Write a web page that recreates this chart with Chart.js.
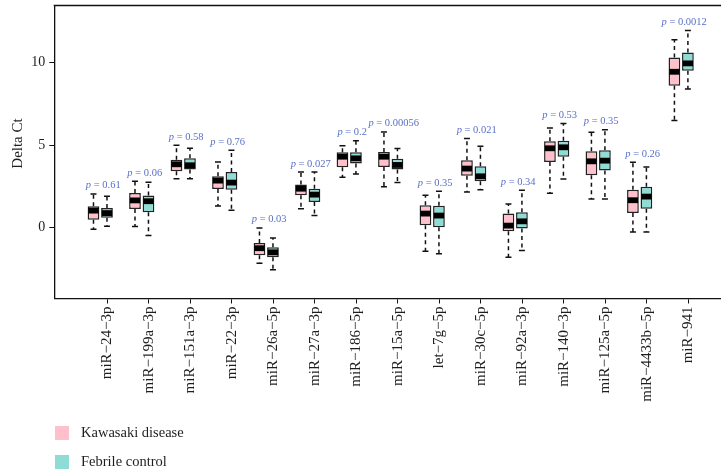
<!DOCTYPE html>
<html>
<head>
<meta charset="utf-8">
<script src="https://cdn.jsdelivr.net/npm/chart.js@4.4.1/dist/chart.umd.min.js"></script>
<style>
  html, body { margin: 0; padding: 0; background: #fff; overflow: hidden; }
  #wrap { width: 721px; height: 472px; position: relative; }
</style>
</head>
<body>
<div id="wrap"><canvas id="chart"></canvas></div>
<script>
// miRNA targets along the x axis
const categories = [
  'miR−24−3p', 'miR−199a−3p', 'miR−151a−3p', 'miR−22−3p', 'miR−26a−5p',
  'miR−27a−3p', 'miR−186−5p', 'miR−15a−5p', 'let−7g−5p', 'miR−30c−5p',
  'miR−92a−3p', 'miR−140−3p', 'miR−125a−5p', 'miR−4433b−5p', 'miR−941'
];

// Group comparison p-values
const pValues = ['0.61', '0.06', '0.58', '0.76', '0.03', '0.027', '0.2', '0.00056',
                 '0.35', '0.021', '0.34', '0.53', '0.35', '0.26', '0.0012'];

// Kawasaki disease: whisker low, Q1, median, Q3, whisker high (Delta Ct)
const kdLow    = [-0.10, 0.06, 2.97, 1.31, -2.16, 1.15, 3.05, 2.47, -1.43, 2.16, -1.80, 2.08, 1.74, -0.26, 6.50];
const kdQ1     = [0.48, 1.13, 3.41, 2.34, -1.68, 1.96, 3.66, 3.68, 0.14, 3.15, -0.22, 3.98, 3.17, 0.89, 8.61];
const kdMedian = [1.03, 1.65, 3.84, 2.85, -1.25, 2.36, 4.30, 4.30, 0.85, 3.58, 0.12, 4.81, 4.02, 1.66, 9.45];
const kdQ3     = [1.29, 2.10, 4.12, 3.11, -0.93, 2.61, 4.57, 4.59, 1.35, 4.08, 0.85, 5.23, 4.63, 2.30, 10.32];
const kdHigh   = [2.04, 2.81, 4.99, 3.98, -0.02, 3.37, 4.97, 5.80, 1.96, 5.41, 1.43, 6.04, 5.78, 3.96, 11.39];

// Febrile control: whisker low, Q1, median, Q3, whisker high (Delta Ct)
const fcLow    = [0.08, -0.48, 2.97, 1.05, -2.56, 0.73, 3.25, 2.73, -1.58, 2.30, -1.39, 2.95, 1.74, -0.26, 8.40];
const fcQ1     = [0.59, 0.93, 3.52, 2.30, -1.80, 1.56, 3.88, 3.52, 0.02, 2.81, -0.06, 4.30, 3.47, 1.15, 9.52];
const fcMedian = [0.88, 1.60, 3.78, 2.73, -1.50, 2.00, 4.20, 3.80, 0.73, 3.11, 0.38, 4.87, 4.06, 1.88, 9.96];
const fcQ3     = [1.19, 1.94, 4.20, 3.37, -1.19, 2.36, 4.57, 4.18, 1.33, 3.72, 0.93, 5.27, 4.69, 2.47, 10.62];
const fcHigh   = [1.90, 2.75, 4.81, 4.69, -0.63, 3.37, 5.27, 4.79, 2.20, 4.93, 2.26, 6.32, 5.94, 3.68, 11.96];

// Y axis tick values
const yTicks = [0, 5, 10];
const yTitle = 'Delta Ct';

const SERIF = '"Liberation Serif", "Times New Roman", serif';
const TEXT = '#1e1e1e';
const PAIR_SHIFT = -0.17;   // box pairs sit slightly left of their tick

function boxData(q1, q3) {
  return q1.map((v, i) => ({ x: i + 1 + PAIR_SHIFT, y: [v, q3[i]] }));
}

// Whiskers, medians, p-value labels, top frame, y title and legend
const boxParts = {
  id: 'boxParts',
  beforeDatasetsDraw(chart) {
    const ctx = chart.ctx, y = chart.scales.y;
    chart.data.datasets.forEach((ds, d) => {
      const meta = chart.getDatasetMeta(d);
      meta.data.forEach((el, i) => {
        const x = el.x;
        const pHi = y.getPixelForValue(ds.whiskerHigh[i]);
        const pLo = y.getPixelForValue(ds.whiskerLow[i]);
        const pQ3 = y.getPixelForValue(ds.data[i].y[1]);
        const pQ1 = y.getPixelForValue(ds.data[i].y[0]);
        ctx.save();
        ctx.strokeStyle = '#111';
        ctx.lineWidth = 1.5;
        ctx.setLineDash([4, 3.5]);
        ctx.beginPath();
        ctx.moveTo(x, pQ3); ctx.lineTo(x, pHi);
        ctx.moveTo(x, pQ1); ctx.lineTo(x, pLo);
        ctx.stroke();
        ctx.setLineDash([]);
        ctx.beginPath();
        ctx.moveTo(x - 3, pHi); ctx.lineTo(x + 3, pHi);
        ctx.moveTo(x - 3, pLo); ctx.lineTo(x + 3, pLo);
        ctx.stroke();
        ctx.restore();
      });
    });
  },
  afterDatasetsDraw(chart) {
    const ctx = chart.ctx, xs = chart.scales.x, y = chart.scales.y;
    // thick median bands
    chart.data.datasets.forEach((ds, d) => {
      const meta = chart.getDatasetMeta(d);
      meta.data.forEach((el, i) => {
        const pm = y.getPixelForValue(ds.median[i]);
        const w = el.width - 1.5;
        ctx.fillStyle = '#000';
        ctx.fillRect(el.x - w / 2, pm - 2.9, w, 5.8);
      });
    });
    // p-value annotations above each pair
    const [kd, fc] = chart.data.datasets;
    categories.forEach((c, i) => {
      const top = Math.max(kd.whiskerHigh[i], fc.whiskerHigh[i]);
      const cx = xs.getPixelForValue(i + 1 + PAIR_SHIFT) + 3;
      const py = y.getPixelForValue(top) - 5.5;
      ctx.save();
      ctx.fillStyle = '#5a6fc6';
      ctx.textBaseline = 'alphabetic';
      ctx.textAlign = 'left';
      const fItal = 'italic 10.5px ' + SERIF;
      const fReg = '10.5px ' + SERIF;
      ctx.font = fItal;
      const wp = ctx.measureText('p').width;
      ctx.font = fReg;
      const rest = ' = ' + pValues[i];
      const wr = ctx.measureText(rest).width;
      const x0 = cx - (wp + wr) / 2;
      ctx.font = fItal;
      ctx.fillText('p', x0, py);
      ctx.font = fReg;
      ctx.fillText(rest, x0 + wp, py);
      ctx.restore();
    });
  },
  afterDraw(chart) {
    const ctx = chart.ctx, a = chart.chartArea;
    // top frame line
    ctx.save();
    ctx.strokeStyle = '#111';
    ctx.lineWidth = 1.3;
    ctx.beginPath();
    ctx.moveTo(a.left - 0.6, a.top);
    ctx.lineTo(a.right, a.top);
    ctx.stroke();
    // y axis title
    ctx.save();
    ctx.translate(18, 143.5);
    ctx.rotate(-Math.PI / 2);
    ctx.font = '15px ' + SERIF;
    ctx.fillStyle = TEXT;
    ctx.textAlign = 'center';
    ctx.textBaseline = 'middle';
    ctx.fillText(yTitle, 0, 0);
    ctx.restore();
    // legend, stacked vertically
    ctx.font = '14.5px ' + SERIF;
    ctx.textBaseline = 'middle';
    ctx.textAlign = 'left';
    chart.data.datasets.forEach((ds, d) => {
      const top = 426 + d * 29;
      ctx.fillStyle = ds.backgroundColor;
      ctx.fillRect(55, top, 14, 14);
      ctx.fillStyle = TEXT;
      ctx.fillText(ds.label, 81, top + 7.5);
    });
    ctx.restore();
  }
};

new Chart(document.getElementById('chart'), {
  type: 'bar',
  data: {
    datasets: [
      {
        label: 'Kawasaki disease',
        data: boxData(kdQ1, kdQ3),
        whiskerLow: kdLow, whiskerHigh: kdHigh, median: kdMedian,
        backgroundColor: '#ffc0cb',
        borderColor: '#222',
        borderWidth: 1.5,
        borderSkipped: false
      },
      {
        label: 'Febrile control',
        data: boxData(fcQ1, fcQ3),
        whiskerLow: fcLow, whiskerHigh: fcHigh, median: fcMedian,
        backgroundColor: '#8fdcd5',
        borderColor: '#222',
        borderWidth: 1.5,
        borderSkipped: false
      }
    ]
  },
  options: {
    responsive: true,
    maintainAspectRatio: false,
    animation: false,
    events: [],
    categoryPercentage: 0.65,
    barPercentage: 0.87,
    layout: { padding: { top: 5.5, left: 0, right: 0, bottom: 0 } },
    plugins: { legend: { display: false }, tooltip: { enabled: false } },
    scales: {
      x: {
        type: 'linear',
        min: -0.277,
        max: 15.79,
        offset: false,
        afterBuildTicks(scale) {
          scale.ticks = categories.map((c, i) => ({ value: i + 1 }));
        },
        afterFit(scale) {
          scale.height = 173.5;
          scale.paddingLeft = 0;
          scale.paddingRight = 0;
        },
        ticks: {
          autoSkip: false,
          maxRotation: 90,
          minRotation: 90,
          padding: 3,
          color: TEXT,
          font: { family: SERIF, size: 15 },
          callback: (v) => categories[Math.round(v) - 1]
        },
        grid: { display: true, drawOnChartArea: false, drawTicks: true, tickLength: 5, color: '#111', offset: false },
        border: { display: true, color: '#111', width: 1.3 }
      },
      y: {
        type: 'linear',
        min: -4.3,
        max: 13.47,
        afterBuildTicks(scale) {
          scale.ticks = yTicks.map(v => ({ value: v }));
        },
        afterFit(scale) {
          scale.width = 54.3;
          scale.paddingTop = 0;
          scale.paddingBottom = 0;
        },
        ticks: {
          padding: 4,
          color: TEXT,
          font: { family: SERIF, size: 14 }
        },
        grid: { display: true, drawOnChartArea: false, drawTicks: true, tickLength: 5, color: '#111' },
        border: { display: true, color: '#111', width: 1.3 }
      }
    }
  },
  plugins: [boxParts]
});
</script>
</body>
</html>
